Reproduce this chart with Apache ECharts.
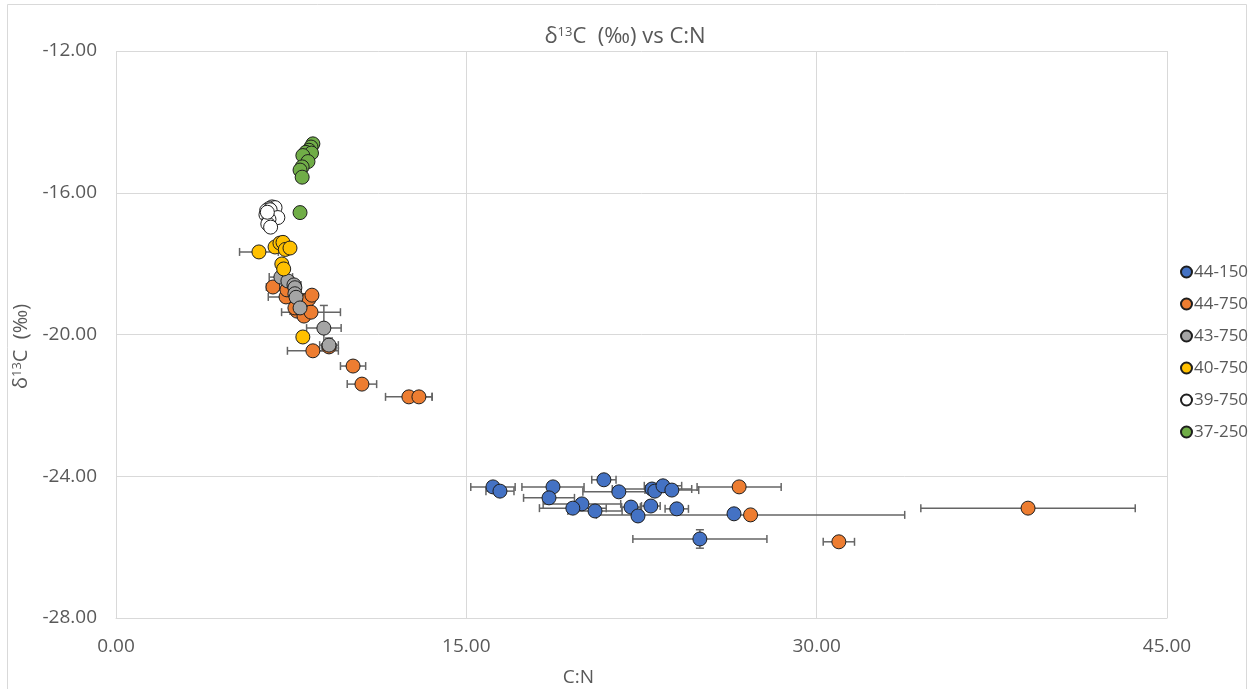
<!DOCTYPE html>
<html>
<head>
<meta charset="utf-8">
<title>δ13C (‰) vs C:N</title>
<script src="https://cdn.jsdelivr.net/npm/echarts@6/dist/echarts.min.js"></script>
<style>
  html, body { margin: 0; padding: 0; background: #ffffff; overflow: hidden; }
  #chart { width: 1250px; height: 689px; }
</style>
</head>
<body>
<div id="chart"></div>
<script>
// Sample groups (legend order)
const groupNames = ['44-150', '44-750', '43-750', '40-750', '39-750', '37-250'];
const groupColors = ['#4472C4', '#ED7D31', '#A5A5A5', '#FFC000', '#FFFFFF', '#70AD47'];

// Axis ticks
const xTicks = [0, 15, 30, 45];
const yTicks = [-28, -24, -20, -16, -12];

// 44-150
const cn44_150 = [16.14, 16.44, 18.71, 20.89, 21.53, 22.95, 23.07, 23.42, 23.80, 18.54, 19.95, 19.56, 20.51, 22.05, 22.90, 24.01, 22.35, 25.00, 26.46];
const d13c44_150 = [-24.30, -24.42, -24.30, -24.10, -24.44, -24.36, -24.42, -24.27, -24.39, -24.61, -24.78, -24.90, -24.98, -24.87, -24.84, -24.92, -25.12, -25.77, -25.06];
const cnErr44_150 = [0.95, 0.60, 1.33, 0.52, 1.54, 1.70, 0, 0.80, 1.15, 1.09, 1.66, 1.43, 1.16, 0.40, 0.40, 0.50, 0, 2.87, 0];
const d13cErr44_150 = [0, 0.04, 0, 0, 0, 0, 0, 0, 0, 0, 0, 0, 0.05, 0, 0, 0.10, 0.06, 0.26, 0];

// 44-750
const cn44_750 = [6.72, 7.28, 7.32, 7.88, 8.26, 8.39, 7.75, 8.05, 8.35, 7.66, 8.43, 9.12, 10.15, 10.53, 12.54, 12.97, 26.68, 27.17, 30.95, 39.05];
const d13c44_750 = [-18.66, -18.94, -18.74, -19.03, -19.00, -18.89, -19.34, -19.48, -19.37, -19.25, -20.46, -20.35, -20.89, -21.40, -21.76, -21.76, -24.30, -25.09, -25.85, -24.90];
const cnErr44_750 = [0.28, 0.76, 0, 0, 0, 0, 0.30, 0, 1.26, 0, 1.09, 0.30, 0.54, 0.63, 1.00, 0.56, 1.80, 6.60, 0.67, 4.59];
const d13cErr44_750 = [0, 0, 0, 0, 0, 0, 0, 0, 0, 0, 0, 0.10, 0, 0, 0, 0, 0, 0, 0, 0];

// 43-750
const cn43_750 = [7.06, 7.36, 7.62, 7.66, 7.66, 7.71, 7.88, 8.90, 9.12];
const d13c43_750 = [-18.38, -18.49, -18.60, -18.68, -18.85, -18.95, -19.25, -19.82, -20.30];
const cnErr43_750 = [0.50, 0, 0.30, 0, 0, 0, 0.40, 0.74, 0.40];
const d13cErr43_750 = [0, 0, 0, 0, 0, 0, 0, 0.64, 0.20];

// 40-750
const cn40_750 = [6.12, 6.81, 7.02, 7.15, 7.25, 7.45, 7.10, 7.18, 8.00];
const d13c40_750 = [-17.67, -17.53, -17.42, -17.40, -17.60, -17.56, -18.01, -18.15, -20.07];
const cnErr40_750 = [0.83, 0, 0, 0, 0, 0, 0, 0, 0];
const d13cErr40_750 = [0.15, 0, 0, 0, 0, 0, 0, 0, 0];

// 39-750
const cn39_750 = [6.68, 6.81, 6.55, 6.45, 6.60, 6.42, 6.93, 6.55, 6.50, 6.62, 6.48];
const d13c39_750 = [-16.40, -16.42, -16.45, -16.50, -16.48, -16.62, -16.70, -16.75, -16.88, -16.97, -16.55];
const cnErr39_750 = [0, 0, 0, 0, 0, 0, 0, 0, 0, 0, 0];
const d13cErr39_750 = [0, 0, 0, 0, 0, 0, 0, 0, 0, 0, 0];

// 37-250
const cn37_250 = [8.43, 8.35, 8.26, 8.13, 8.37, 8.00, 8.22, 7.97, 7.88, 7.97, 7.88];
const d13c37_250 = [-14.62, -14.71, -14.80, -14.86, -14.88, -14.95, -15.12, -15.27, -15.36, -15.56, -16.56];
const cnErr37_250 = [0, 0, 0, 0, 0, 0, 0, 0, 0, 0, 0];
const d13cErr37_250 = [0, 0, 0, 0, 0, 0, 0, 0, 0, 0, 0];

const groupsX = [cn44_150, cn44_750, cn43_750, cn40_750, cn39_750, cn37_250];
const groupsY = [d13c44_150, d13c44_750, d13c43_750, d13c40_750, d13c39_750, d13c37_250];
const groupsXErr = [cnErr44_150, cnErr44_750, cnErr43_750, cnErr40_750, cnErr39_750, cnErr37_250];
const groupsYErr = [d13cErr44_150, d13cErr44_750, d13cErr43_750, d13cErr40_750, d13cErr39_750, d13cErr37_250];

const TEXT = '#595959';
const GRID = '#d9d9d9';
const FONT = '"Open Sans", "Noto Sans", sans-serif';
const BAR = '#656565';
const CAP = 4;

// Draws horizontal and vertical error bars with end caps
function renderErrorBars(params, api) {
  const x = api.value(0), y = api.value(1), ex = api.value(2), ey = api.value(3);
  const style = { stroke: BAR, lineWidth: 1.5, fill: null };
  const children = [];
  if (ex > 0) {
    const a = api.coord([x - ex, y]);
    const b = api.coord([x + ex, y]);
    children.push({ type: 'line', shape: { x1: a[0], y1: a[1], x2: b[0], y2: b[1] }, style });
    children.push({ type: 'line', shape: { x1: a[0], y1: a[1] - CAP, x2: a[0], y2: a[1] + CAP }, style });
    children.push({ type: 'line', shape: { x1: b[0], y1: b[1] - CAP, x2: b[0], y2: b[1] + CAP }, style });
  }
  if (ey > 0) {
    const a = api.coord([x, y - ey]);
    const b = api.coord([x, y + ey]);
    children.push({ type: 'line', shape: { x1: a[0], y1: a[1], x2: b[0], y2: b[1] }, style });
    children.push({ type: 'line', shape: { x1: a[0] - CAP, y1: a[1], x2: a[0] + CAP, y2: a[1] }, style });
    children.push({ type: 'line', shape: { x1: b[0] - CAP, y1: b[1], x2: b[0] + CAP, y2: b[1] }, style });
  }
  return { type: 'group', children };
}

const series = [];
groupNames.forEach((name, g) => {
  const xs = groupsX[g], ys = groupsY[g], exs = groupsXErr[g], eys = groupsYErr[g];
  series.push({
    type: 'custom',
    name: name + ' ±',
    renderItem: renderErrorBars,
    data: xs.map((x, i) => [x, ys[i], exs[i], eys[i]]),
    encode: { x: 0, y: 1 },
    z: 2,
    silent: true
  });
});
groupNames.forEach((name, g) => {
  const xs = groupsX[g], ys = groupsY[g];
  series.push({
    type: 'scatter',
    name: name,
    symbol: 'circle',
    symbolSize: 14,
    data: xs.map((x, i) => [x, ys[i]]),
    itemStyle: { color: groupColors[g], borderColor: '#1e1e1e', borderWidth: 1, opacity: 1 },
    z: 3
  });
});

const chart = echarts.init(document.getElementById('chart'), null, { renderer: 'canvas' });
chart.setOption({
  animation: false,
  backgroundColor: '#ffffff',
  title: {
    text: '{t|δ}{s|13}{t|C  (‰) vs C:N}',
    left: 'center',
    top: 21,
    textStyle: {
      fontWeight: 'normal',
      fontSize: 22,
      rich: {
        t: { fontFamily: FONT, fontSize: 22, fontWeight: 'normal', color: TEXT },
        s: { fontFamily: FONT, fontSize: 13, fontWeight: 'normal', color: TEXT, padding: [0, 0, 9, 0] }
      }
    }
  },
  graphic: [{
    type: 'rect',
    shape: { x: 7.5, y: 4.5, width: 1239, height: 700 },
    style: { fill: null, stroke: GRID, lineWidth: 1 },
    silent: true,
    z: -1
  }],
  legend: {
    data: groupNames,
    orient: 'vertical',
    left: 1175,
    top: 257,
    itemWidth: 11,
    itemHeight: 11,
    itemGap: 12,
    icon: 'circle',
    textStyle: { fontFamily: FONT, fontSize: 17, color: TEXT, lineHeight: 20, padding: [0, 0, 0, -3] }
  },
  grid: { left: 116, right: 83, top: 51, bottom: 71, containLabel: false, outerBoundsMode: 'none' },
  xAxis: {
    type: 'value',
    min: xTicks[0],
    max: xTicks[xTicks.length - 1],
    interval: 15,
    name: 'C:N',
    nameLocation: 'middle',
    nameGap: 50,
    nameTextStyle: { fontFamily: FONT, fontSize: 19, color: TEXT, padding: [0, 126, 0, 0] },
    axisLine: { show: true, lineStyle: { color: GRID } },
    axisTick: { show: false },
    axisLabel: { fontFamily: FONT, fontSize: 19, color: TEXT, margin: 19, formatter: v => v.toFixed(2) },
    splitLine: { show: true, lineStyle: { color: GRID, width: 1 } }
  },
  yAxis: {
    type: 'value',
    min: yTicks[0],
    max: yTicks[yTicks.length - 1],
    interval: 4,
    name: '{t|δ}{s|13}{t|C  (‰)}',
    nameLocation: 'middle',
    nameGap: 75,
    nameTextStyle: {
      fontFamily: FONT,
      fontSize: 20,
      color: TEXT,
      padding: [0, 24, 0, 0],
      rich: {
        t: { fontFamily: FONT, fontSize: 20, color: TEXT },
        s: { fontFamily: FONT, fontSize: 13, color: TEXT, padding: [0, 0, 8, 0] }
      }
    },
    axisLine: { show: false },
    axisTick: { show: false },
    axisLabel: { fontFamily: FONT, fontSize: 19, color: TEXT, margin: 19, formatter: v => v.toFixed(2) },
    splitLine: { show: true, lineStyle: { color: GRID, width: 1 } }
  },
  series: series
});
</script>
</body>
</html>
